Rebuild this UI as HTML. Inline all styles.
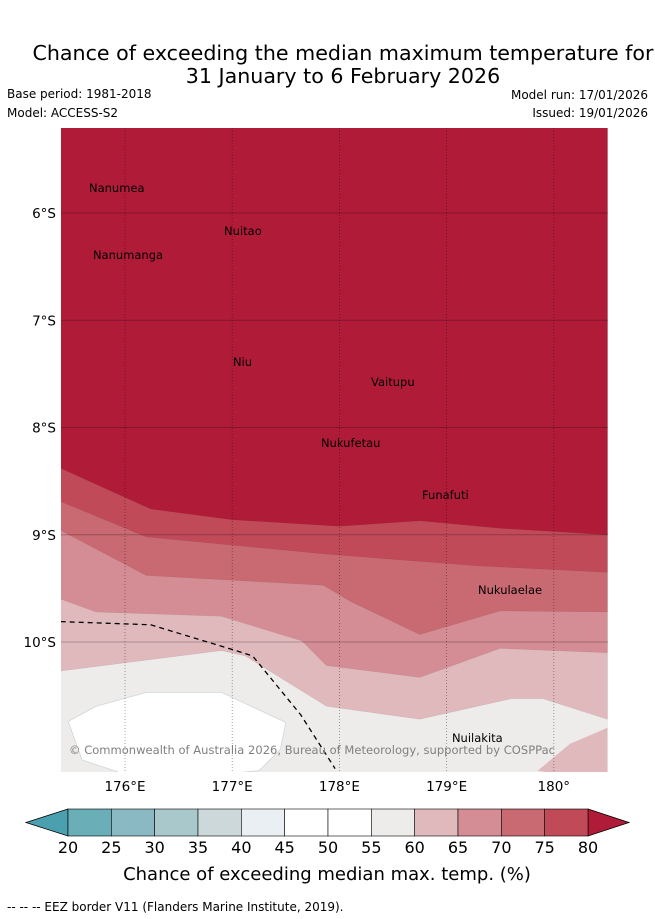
<!DOCTYPE html>
<html><head><meta charset="utf-8"><style>
body{margin:0;background:#fff;width:655px;height:919px;overflow:hidden;font-family:"Liberation Sans","DejaVu Sans",sans-serif}
svg{position:absolute;left:0;top:0}
</style></head><body>
<svg width="655" height="919" font-family="DejaVu Sans, Liberation Sans, sans-serif">
<text x="343" y="60" font-size="20.6" text-anchor="middle" fill="#000">Chance of exceeding the median maximum temperature for</text>
<text x="343" y="83" font-size="20.6" text-anchor="middle" fill="#000">31 January to 6 February 2026</text>
<text x="7" y="98" font-size="12">Base period: 1981-2018</text>
<text x="7" y="117" font-size="12">Model: ACCESS-S2</text>
<text x="648" y="99" font-size="12" text-anchor="end">Model run: 17/01/2026</text>
<text x="648" y="117" font-size="12" text-anchor="end">Issued: 19/01/2026</text>
<defs><clipPath id="mc"><rect x="61" y="128" width="547" height="644"/></clipPath></defs>
<g id="map" clip-path="url(#mc)"></g>
<g id="cbar"></g>
<text x="327" y="880" font-size="18" text-anchor="middle">Chance of exceeding median max. temp. (%)</text>
<text x="7" y="911" font-size="12">--  --  -- EEZ border V11 (Flanders Marine Institute, 2019).</text>
</svg>
<script>
const lonTicks=[176,177,178,179,180];
const latTicks=[6,7,8,9,10];
const bandColors=["#b01c38","#c04a58","#c96a72","#d48d94","#e0b9bd","#eeeceb"];
const b80=[[175.4,8.38],[176.24,8.76],[177,8.86],[178,8.92],[178.75,8.87],[179.5,8.94],[180.5,9.0]];
const b75=[[175.4,8.69],[176.2,9.02],[177.88,9.18],[179.3,9.29],[180.5,9.35]];
const b70=[[175.4,8.96],[176.2,9.38],[177.85,9.47],[178.1,9.62],[178.75,9.93],[179.5,9.71],[180.5,9.72]];
const b65=[[175.4,9.6],[175.73,9.72],[176.9,9.76],[177.65,9.99],[177.88,10.22],[178.75,10.33],[179.5,10.06],[180.5,10.1]];
const b60=[[175.4,10.27],[176.9,10.08],[177.12,10.13],[177.88,10.6],[178.75,10.72],[179.6,10.53],[179.9,10.53],[180.5,10.72]];
const whiteIsland=[[175.47,10.74],[175.73,10.6],[176.2,10.47],[176.9,10.47],[177.5,10.75],[177.45,11.0],[177.25,11.2],[176.2,11.3],[175.6,11.1]];
const patchSE=[[179.85,11.2],[180.15,10.95],[180.5,10.8],[180.5,11.3]];
const eez=[[175.4,9.81],[176.24,9.84],[177,10.07],[177.19,10.13],[177.64,10.68],[177.96,11.18]];
const islands=[["Nanumea",175.664,5.767],["Nuitao",176.924,6.168],["Nanumanga",175.701,6.392],["Niu",177.007,7.389],["Vaitupu",178.295,7.576],["Nukufetau",177.828,8.145],["Funafuti",178.771,8.63],["Nukulaelae",179.293,9.515],["Nuilakita",179.05,10.895]];
const cbLevels=[20,25,30,35,40,45,50,55,60,65,70,75,80];
const cbColors=["#6aaeb8","#8ab9c4","#a8c8cc","#cdd8da","#e9eff2","#ffffff","#ffffff","#eeeceb","#e0b9bd","#d48d94","#c96a72","#c04a58"];

const X=lon=>125+(lon-176)*107.2;
const Y=lat=>213+(lat-6)*107.25;
const NS="http://www.w3.org/2000/svg";
const map=document.getElementById('map');
function mk(tag,attrs,parent){const e=document.createElementNS(NS,tag);for(const k in attrs)e.setAttribute(k,attrs[k]);parent.appendChild(e);return e;}
const pts=a=>a.map(p=>X(p[0]).toFixed(1)+","+Y(p[1]).toFixed(1)).join(" ");
let bg=mk('rect',{x:61,y:128,width:547,height:644,fill:bandColors[5]},map);


const bounds=[b80,b75,b70,b65,b60];
const names=['band-80','band-75-80','band-70-75','band-65-70','band-60-65'];
for(let i=bounds.length-1;i>=0;i--){
  const b=bounds[i];
  const poly=[[b[0][0],5],...b,[b[b.length-1][0],5]];
  const p=mk('polygon',{points:pts(poly),fill:bandColors[i],stroke:"rgba(0,0,0,0.08)","stroke-width":0.6},map);
  
  
}
let wi=mk('polygon',{points:pts(whiteIsland),fill:"#fff",stroke:"#cfd6d8","stroke-width":0.8},map);


let ps=mk('polygon',{points:pts(patchSE),fill:bandColors[4]},map);


lonTicks.forEach(l=>{
  const g=mk('line',{x1:X(l),x2:X(l),y1:128,y2:772,stroke:"rgba(0,0,0,0.45)","stroke-width":0.8,"stroke-dasharray":"1,2"},map);
  
  
});
latTicks.forEach(l=>{
  const g=mk('line',{x1:61,x2:608,y1:Y(l),y2:Y(l),stroke:"rgba(0,0,0,0.25)","stroke-width":1},map);
  
  
});
let ez=mk('polyline',{points:pts(eez),fill:"none",stroke:"#000","stroke-width":1.3,"stroke-dasharray":"5,4"},map);


islands.forEach(d=>{
  const t=mk('text',{x:X(d[1]),y:Y(d[2])+4,"font-size":11.5,fill:"#000"},map);
  t.textContent=d[0];
  
  
});
let cr=mk('text',{x:69,y:754,"font-size":11.5,fill:"#808080",textLength:486},map);
cr.textContent="© Commonwealth of Australia 2026, Bureau of Meteorology, supported by COSPPac";


const svg=document.querySelector('svg');
lonTicks.forEach(l=>{
  const t=mk('text',{x:X(l),y:791,"font-size":13.5,"text-anchor":"middle"},svg);
  t.textContent=(l===180?"180°":l+"°E");
  
  
});
latTicks.forEach(l=>{
  const t=mk('text',{x:56,y:Y(l)+5,"font-size":13.5,"text-anchor":"end"},svg);
  t.textContent=l+"°S";
  
  
});
const cb=document.getElementById('cbar');
const C0=68,C1=588,cy0=809,cy1=836;
const CX=v=>C0+(v-20)/60*(C1-C0);
let la=mk('polygon',{points:`${C0},${cy0} 26,${(cy0+cy1)/2} ${C0},${cy1}`,fill:"#4ba0b0",stroke:"#000","stroke-width":0.8},cb);


let ra=mk('polygon',{points:`${C1},${cy0} 629,${(cy0+cy1)/2} ${C1},${cy1}`,fill:"#b01c38",stroke:"#000","stroke-width":0.8},cb);


cbColors.forEach((c,i)=>{
  const r=mk('rect',{x:CX(cbLevels[i]),y:cy0,width:CX(cbLevels[i+1])-CX(cbLevels[i]),height:cy1-cy0,fill:c,stroke:"#000","stroke-width":0.6},cb);
  
  
});
cbLevels.forEach(v=>{
  const t=mk('text',{x:CX(v),y:853,"font-size":16,"text-anchor":"middle"},cb);
  t.textContent=v;
  
  
});
</script>
</body></html>
